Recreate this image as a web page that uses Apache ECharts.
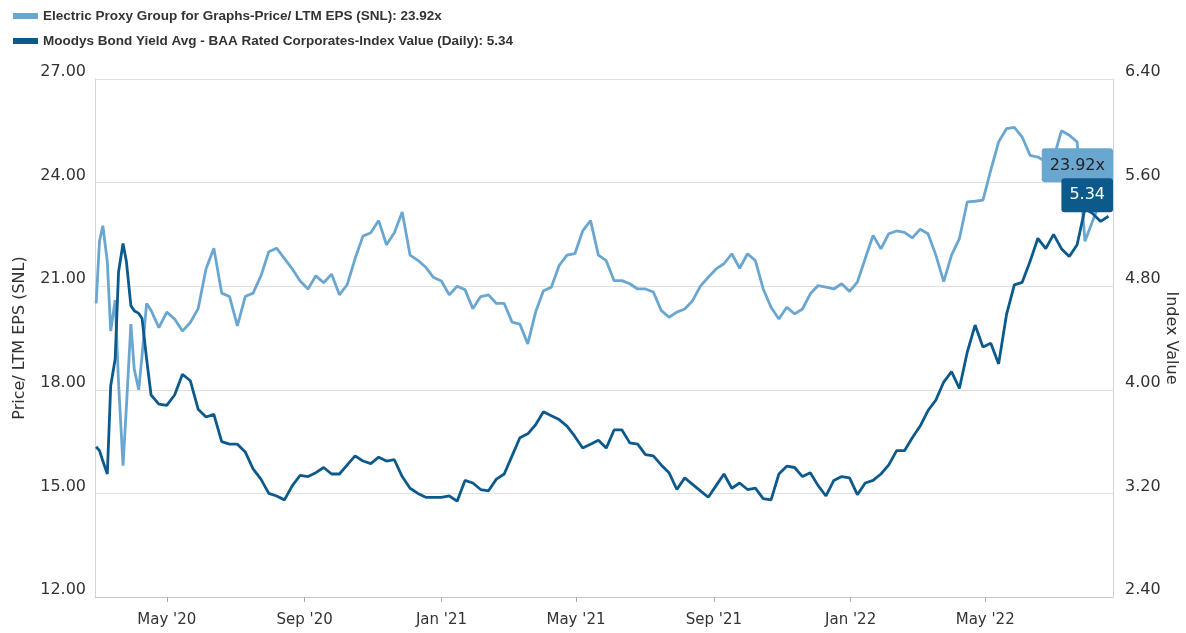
<!DOCTYPE html>
<html><head><meta charset="utf-8">
<script src="https://cdn.jsdelivr.net/npm/echarts@6/dist/echarts.min.js"></script>
<style>html,body{margin:0;padding:0;background:#fff}#c{width:1186px;height:633px}</style>
</head><body><div id="c"></div>
<script>
// ---- data ----
const dates = [
'2020-02-28','2020-03-02','2020-03-05','2020-03-09','2020-03-12','2020-03-16','2020-03-19','2020-03-23','2020-03-26','2020-03-30','2020-04-02','2020-04-06','2020-04-09','2020-04-13','2020-04-17',
'2020-04-24','2020-05-01','2020-05-08','2020-05-15','2020-05-22','2020-05-29','2020-06-05','2020-06-12','2020-06-19','2020-06-26','2020-07-03','2020-07-10','2020-07-17','2020-07-24','2020-07-31','2020-08-07','2020-08-14','2020-08-21','2020-08-28',
'2020-09-04','2020-09-11','2020-09-18','2020-09-25','2020-10-02','2020-10-09','2020-10-16','2020-10-23','2020-10-30','2020-11-06','2020-11-13','2020-11-20','2020-11-27','2020-12-04','2020-12-11','2020-12-18','2020-12-25','2021-01-01','2021-01-08','2021-01-15','2021-01-22','2021-01-29','2021-02-05','2021-02-12','2021-02-19','2021-02-26',
'2021-03-05','2021-03-12','2021-03-19','2021-03-26','2021-04-02','2021-04-09','2021-04-16','2021-04-23','2021-04-30','2021-05-07','2021-05-14','2021-05-21','2021-05-28','2021-06-04','2021-06-11','2021-06-18','2021-06-25','2021-07-02','2021-07-09','2021-07-16','2021-07-23','2021-07-30','2021-08-06','2021-08-13','2021-08-20','2021-08-27',
'2021-09-03','2021-09-10','2021-09-17','2021-09-24','2021-10-01','2021-10-08','2021-10-15','2021-10-22','2021-10-29','2021-11-05','2021-11-12','2021-11-19','2021-11-26','2021-12-03','2021-12-10','2021-12-17','2021-12-24','2021-12-31','2022-01-07','2022-01-14','2022-01-21','2022-01-28','2022-02-04','2022-02-11','2022-02-18','2022-02-25',
'2022-03-04','2022-03-11','2022-03-18','2022-03-25','2022-04-01','2022-04-08','2022-04-15','2022-04-22','2022-04-29','2022-05-06','2022-05-13','2022-05-20','2022-05-27','2022-06-03','2022-06-10','2022-06-17','2022-06-24','2022-07-01','2022-07-08','2022-07-15','2022-07-22','2022-07-29','2022-08-05','2022-08-12','2022-08-19'
];
const peValues = [
20.5,22.3,22.75,21.7,19.7,20.6,18.2,15.8,17.5,19.9,18.6,18.0,19.0,20.5,20.3,
19.8,20.25,20.05,19.7,19.95,20.35,21.5,22.1,20.8,20.7,19.85,20.7,20.8,21.3,22.0,22.1,21.8,21.5,21.15,
20.92,21.3,21.1,21.35,20.75,21.05,21.8,22.45,22.55,22.9,22.2,22.55,23.15,21.9,21.75,21.55,21.25,21.15,20.75,21.0,20.9,20.35,20.7,20.75,20.5,20.5,
19.96,19.9,19.33,20.25,20.87,20.97,21.6,21.9,21.94,22.6,22.9,21.9,21.74,21.16,21.16,21.07,20.92,20.92,20.83,20.3,20.1,20.25,20.34,20.58,21.0,21.26,
21.5,21.65,21.94,21.52,21.94,21.74,20.92,20.39,20.05,20.39,20.2,20.34,20.78,21.02,20.97,20.92,21.07,20.85,21.12,21.8,22.47,22.08,22.52,22.6,22.56,22.4,
22.65,22.52,21.9,21.13,21.9,22.38,23.44,23.46,23.49,24.36,25.18,25.56,25.6,25.32,24.79,24.74,24.6,24.7,25.5,25.37,25.18,22.3,22.9,23.5,23.92
];
const baaValues = [
3.56,3.53,3.45,3.35,4.03,4.24,4.91,5.13,4.99,4.65,4.61,4.59,4.55,4.24,3.96,
3.89,3.88,3.96,4.12,4.07,3.85,3.79,3.81,3.60,3.58,3.58,3.52,3.39,3.31,3.20,3.18,3.15,3.26,3.34,
3.33,3.36,3.40,3.35,3.35,3.42,3.49,3.45,3.43,3.48,3.45,3.46,3.33,3.24,3.20,3.17,3.17,3.17,3.18,3.14,3.30,3.28,3.23,3.22,3.31,3.35,
3.49,3.63,3.66,3.73,3.83,3.80,3.77,3.72,3.64,3.55,3.58,3.61,3.55,3.69,3.69,3.59,3.58,3.50,3.49,3.42,3.36,3.23,3.32,3.27,3.22,3.17,
3.26,3.35,3.24,3.28,3.23,3.24,3.16,3.15,3.35,3.41,3.40,3.33,3.36,3.26,3.18,3.30,3.33,3.32,3.19,3.28,3.30,3.35,3.42,3.53,3.53,3.63,
3.72,3.84,3.92,4.06,4.14,4.01,4.29,4.50,4.33,4.36,4.20,4.58,4.81,4.83,4.99,5.17,5.09,5.20,5.09,5.03,5.12,5.40,5.36,5.30,5.34
];
const seriesNames = [
  'Electric Proxy Group for Graphs-Price/ LTM EPS (SNL)',
  'Moodys Bond Yield Avg - BAA Rated Corporates-Index Value (Daily)'
];
const tickDates = ['2020-05-01','2020-09-01','2021-01-01','2021-05-01','2021-09-01','2022-01-01','2022-05-01'];
const xRange = ['2020-02-27','2022-08-23'];
const leftAxis = {min: 12, max: 27, interval: 3, name: 'Price/ LTM EPS (SNL)'};
const rightAxis = {min: 2.4, max: 6.4, interval: 0.8, name: 'Index Value'};
const monthNames = ['Jan','Feb','Mar','Apr','May','Jun','Jul','Aug','Sep','Oct','Nov','Dec'];

// ---- chart ----
const toTs = s => new Date(s + 'T00:00:00').getTime();
const lightColor = '#6aa7d0', darkColor = '#0c5a8c';
const n = dates.length;
const peLast = peValues[n - 1].toFixed(2) + 'x';
const baaLast = baaValues[n - 1].toFixed(2);
const legendNames = [seriesNames[0] + ': ' + peLast, seriesNames[1] + ': ' + baaLast];
const tickTs = tickDates.map(toTs);
const axisFont = 'DejaVu Sans';

const chart = echarts.init(document.getElementById('c'), null, {renderer: 'canvas'});
chart.setOption({
  animation: false,
  backgroundColor: '#fff',
  legend: {
    orient: 'vertical', left: 8, top: 4, itemWidth: 25, itemHeight: 6, itemGap: 11,
    icon: 'rect', selectedMode: false,
    textStyle: {fontFamily: '"Liberation Sans Narrow", "Liberation Sans", Arial, sans-serif', fontWeight: 'bold', fontSize: 13.5, color: '#333'},
    data: legendNames
  },
  grid: {left: 95, right: 73, top: 79, bottom: 36, outerBoundsMode: 'none'},
  xAxis: {
    type: 'value', min: toTs(xRange[0]), max: toTs(xRange[1]), scale: true,
    axisLine: {show: true, lineStyle: {color: '#c4c8d4', width: 1}},
    axisTick: {show: true, customValues: tickTs, length: 5, lineStyle: {color: '#aaa'}},
    axisLabel: {
      customValues: tickTs, margin: 16, fontFamily: axisFont, fontSize: 15, color: '#333',
      formatter: v => { const d = new Date(v); return monthNames[d.getMonth()] + " '" + String(d.getFullYear()).slice(2); }
    },
    splitLine: {show: false}
  },
  yAxis: [
    {
      type: 'value', position: 'left', min: leftAxis.min, max: leftAxis.max, interval: leftAxis.interval,
      name: leftAxis.name, nameLocation: 'middle', nameGap: 67, nameMoveOverlap: false,
      nameTextStyle: {fontFamily: axisFont, fontSize: 16, color: '#333'},
      axisLine: {show: true, lineStyle: {color: '#cdd3ec'}},
      axisTick: {show: false},
      axisLabel: {formatter: v => v.toFixed(2), margin: 9, verticalAlign: 'bottom', lineHeight: 14, fontFamily: axisFont, fontSize: 16, color: '#333'},
      splitLine: {show: true, lineStyle: {color: '#e0e0e0'}}
    },
    {
      type: 'value', position: 'right', min: rightAxis.min, max: rightAxis.max, interval: rightAxis.interval,
      name: rightAxis.name, nameLocation: 'middle', nameGap: 50, nameRotate: -90, nameMoveOverlap: false,
      nameTextStyle: {fontFamily: axisFont, fontSize: 16, color: '#333'},
      axisLine: {show: true, lineStyle: {color: '#cdd3ec'}},
      axisTick: {show: false},
      axisLabel: {formatter: v => v.toFixed(2), margin: 12, verticalAlign: 'bottom', lineHeight: 14, fontFamily: axisFont, fontSize: 16, color: '#333'},
      splitLine: {show: false}
    }
  ],
  series: [
    {
      name: legendNames[0], type: 'line', yAxisIndex: 0, showSymbol: false, symbol: 'none',
      color: lightColor, lineStyle: {width: 2.8, color: lightColor}, clip: true,
      data: dates.map((d, i) => [toTs(d), peValues[i]]),
      markPoint: {
        symbol: 'circle', symbolSize: 0, silent: true,
        data: [{coord: [toTs(dates[n - 1]), peValues[n - 1]], value: peValues[n - 1]}],
        label: {show: true, position: 'left', distance: 0, offset: [4.5, -20], formatter: () => peLast,
          backgroundColor: lightColor, color: '#222', fontFamily: axisFont, fontSize: 16,
          padding: [10, 8, 8, 8], borderRadius: 3}
      }
    },
    {
      name: legendNames[1], type: 'line', yAxisIndex: 1, showSymbol: false, symbol: 'none',
      color: darkColor, lineStyle: {width: 2.8, color: darkColor}, clip: true,
      data: dates.map((d, i) => [toTs(d), baaValues[i]]),
      markPoint: {
        symbol: 'circle', symbolSize: 0, silent: true,
        data: [{coord: [toTs(dates[n - 1]), baaValues[n - 1]], value: baaValues[n - 1]}],
        label: {show: true, position: 'left', distance: 0, offset: [4.5, -21], formatter: () => baaLast,
          backgroundColor: darkColor, color: '#fff', fontFamily: axisFont, fontSize: 16,
          padding: [10, 8, 8, 8], borderRadius: 3}
      }
    }
  ]
});
</script>
</body></html>
